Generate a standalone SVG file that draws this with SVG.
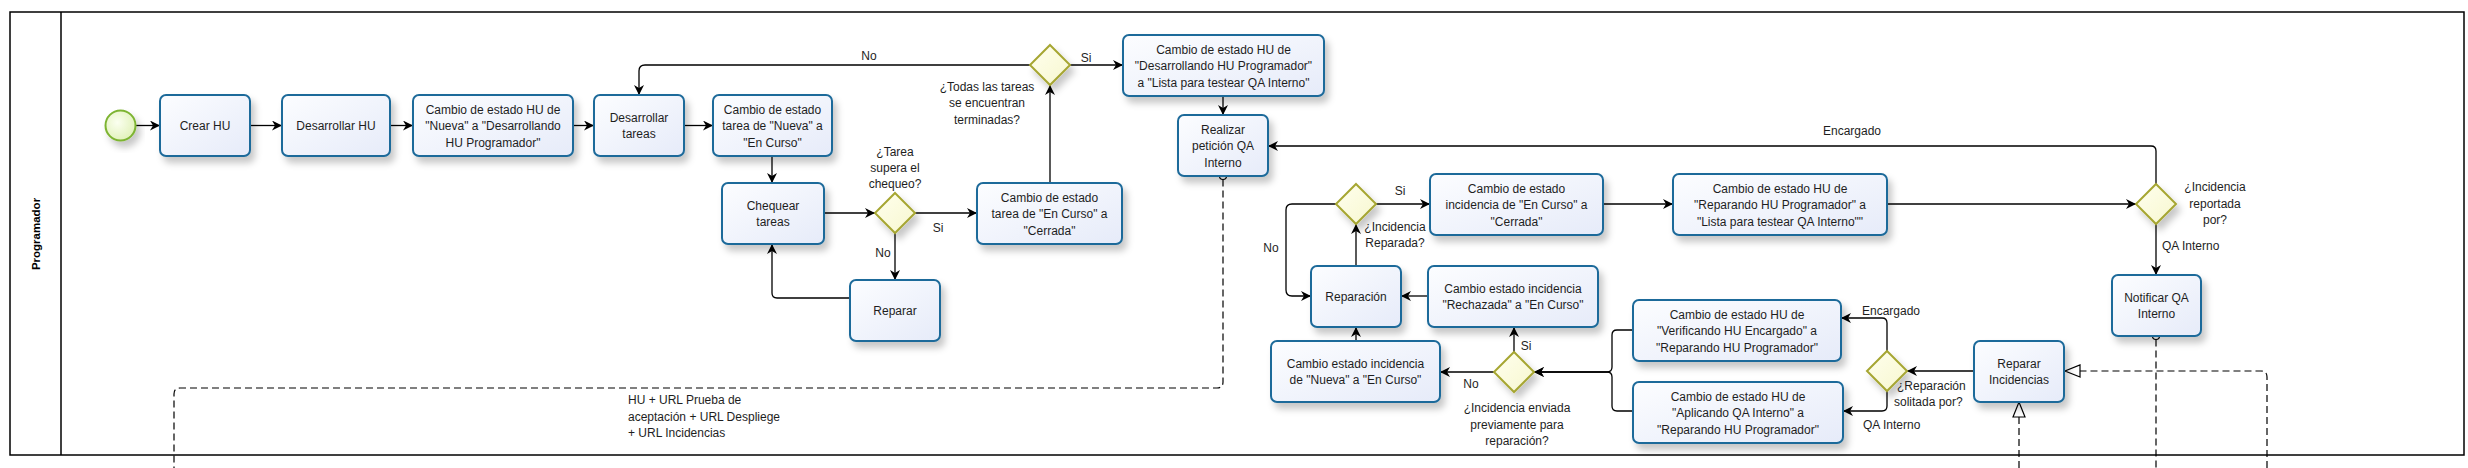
<svg xmlns="http://www.w3.org/2000/svg" width="2468" height="468" viewBox="0 0 2468 468">
<defs>
<linearGradient id="gBox" x1="0" y1="0" x2="1" y2="1"><stop offset="0" stop-color="#fcfdff"/><stop offset="1" stop-color="#e6ebf9"/></linearGradient>
<linearGradient id="gDia" x1="0" y1="0" x2="1" y2="1"><stop offset="0" stop-color="#ffffee"/><stop offset="1" stop-color="#f7f7cf"/></linearGradient>
<radialGradient id="gStart" cx="0.4" cy="0.4" r="0.7"><stop offset="0" stop-color="#fbfff0"/><stop offset="1" stop-color="#def0b4"/></radialGradient>
<filter id="sh" x="-20%" y="-20%" width="150%" height="160%"><feDropShadow dx="4" dy="6" stdDeviation="3.5" flood-color="#000" flood-opacity="0.22"/></filter>
<marker id="arr" markerUnits="userSpaceOnUse" markerWidth="11" markerHeight="11" refX="10" refY="5" orient="auto"><path d="M0,0 L10,5 L0,10 L3,5 z" fill="#000"/></marker>
<marker id="open" markerUnits="userSpaceOnUse" markerWidth="18" markerHeight="16" refX="16" refY="7" orient="auto"><path d="M1,1 L16,7 L1,13 z" fill="#fff" stroke="#000" stroke-width="1.2"/></marker>
<style>
.box{fill:url(#gBox);stroke:#1f6a9a;stroke-width:2;filter:url(#sh)}
.dia{fill:url(#gDia);stroke:#a6a632;stroke-width:2;filter:url(#sh)}
.t{font-family:"Liberation Sans",Arial,sans-serif;font-size:12px;fill:#1e1e1e;text-anchor:middle}
.l{font-family:"Liberation Sans",Arial,sans-serif;font-size:12px;fill:#1e1e1e}
.c{fill:none;stroke:#000;stroke-width:1.3;marker-end:url(#arr)}
.m{fill:none;stroke:#000;stroke-width:1.2;stroke-dasharray:7 4}
</style>
</defs>
<rect width="2468" height="468" fill="#fff"/>
<g id="pool">
<rect x="10" y="12" width="2454" height="443" fill="none" stroke="#000" stroke-width="1.5"/>
<line x1="61" y1="12" x2="61" y2="455" stroke="#000" stroke-width="1.5"/>
<text transform="translate(40,234) rotate(-90)" font-family="'Liberation Sans',Arial,sans-serif" font-size="11.5" font-weight="bold" text-anchor="middle" fill="#000">Programador</text>
</g>
<g id="connectors">
<path class="c" d="M135.5,125.5 H160"/>
<path class="c" d="M250,125.5 H282"/>
<path class="c" d="M390,125.5 H413"/>
<path class="c" d="M573,125.5 H594"/>
<path class="c" d="M684,125.5 H713"/>
<path class="c" d="M772,156 V183"/>
<path class="c" d="M824,213 H875"/>
<path class="c" d="M915,213 H977"/>
<path class="c" d="M895,233 V280"/>
<path class="c" d="M850,298 H777 Q772,298 772,293 V244"/>
<path class="c" d="M1050,183 V85"/>
<path class="c" d="M1030,65 H645 Q639,65 639,71 V95"/>
<path class="c" d="M1070,65 H1123"/>
<path class="c" d="M1223,96 V115"/>
<path class="c" d="M1376,204 H1430"/>
<path class="c" d="M1336,204 H1292 Q1286,204 1286,210 V290 Q1286,296 1292,296 H1311"/>
<path class="c" d="M1356,266 V224"/>
<path class="c" d="M1603,204 H1673"/>
<path class="c" d="M1887,204 H2136"/>
<path class="c" d="M2156,184 V151 Q2156,146 2151,146 H1268"/>
<path class="c" d="M2156,224 V275"/>
<path class="c" d="M1428,296 H1401"/>
<path class="c" d="M1356,341 V327"/>
<path class="c" d="M1494,372 H1440"/>
<path class="c" d="M1514,352 V327"/>
<path class="c" d="M1633,330 H1617 Q1612,330 1612,335 V367 Q1612,372 1607,372 H1534"/>
<path class="c" d="M1633,411 H1617 Q1612,411 1612,406 V377 Q1612,372 1607,372 H1534"/>
<path class="c" d="M1974,371 H1907"/>
<path class="c" d="M1887,351 V323 Q1887,318 1882,318 H1841"/>
<path class="c" d="M1887,391 V406 Q1887,411 1882,411 H1843"/>
<path class="m" d="M1223,179.5 V382 Q1223,388 1217,388 H180 Q174,388 174,394 V468"/>
<path class="m" d="M2156,339.5 V468"/>
<path class="m" d="M2267,468 V377 Q2267,371 2261,371 H2065" marker-end="url(#open)"/>
<path class="m" d="M2019,468 V402" marker-end="url(#open)"/>
<circle cx="1223" cy="176" r="3.5" fill="#fff" stroke="#000" stroke-width="1.2"/>
<circle cx="2156" cy="336" r="3.5" fill="#fff" stroke="#000" stroke-width="1.2"/>
</g>
<g id="start"><circle cx="120.5" cy="125.5" r="15" fill="url(#gStart)" stroke="#7db431" stroke-width="2" filter="url(#sh)"/></g>
<g id="crear"><rect class="box" x="160" y="95" width="90" height="61" rx="6"/><text class="t" x="205" y="130">Crear HU</text></g>
<g id="desHU"><rect class="box" x="282" y="95" width="108" height="61" rx="6"/><text class="t" x="336" y="130">Desarrollar HU</text></g>
<g id="cambioNueva"><rect class="box" x="413" y="95" width="160" height="61" rx="6"/><text class="t" x="493" y="113.5">Cambio de estado HU de</text><text class="t" x="493" y="130">"Nueva" a "Desarrollando</text><text class="t" x="493" y="146.5">HU Programador"</text></g>
<g id="desTareas"><rect class="box" x="594" y="95" width="90" height="61" rx="6"/><text class="t" x="639" y="121.5">Desarrollar</text><text class="t" x="639" y="138">tareas</text></g>
<g id="tareaNueva"><rect class="box" x="713" y="95" width="119" height="61" rx="6"/><text class="t" x="772.5" y="113.5">Cambio de estado</text><text class="t" x="772.5" y="130">tarea de "Nueva" a</text><text class="t" x="772.5" y="146.5">"En Curso"</text></g>
<g id="chequear"><rect class="box" x="722" y="183" width="102" height="61" rx="6"/><text class="t" x="773" y="209.5">Chequear</text><text class="t" x="773" y="226">tareas</text></g>
<g id="reparar"><rect class="box" x="850" y="280" width="90" height="61" rx="6"/><text class="t" x="895" y="315">Reparar</text></g>
<g id="tareaCerrada"><rect class="box" x="977" y="183" width="145" height="61" rx="6"/><text class="t" x="1049.5" y="201.5">Cambio de estado</text><text class="t" x="1049.5" y="218">tarea de "En Curso" a</text><text class="t" x="1049.5" y="234.5">"Cerrada"</text></g>
<g id="huLista"><rect class="box" x="1123" y="35" width="201" height="61" rx="6"/><text class="t" x="1223.5" y="53.5">Cambio de estado HU de</text><text class="t" x="1223.5" y="70">"Desarrollando HU Programador"</text><text class="t" x="1223.5" y="86.5">a "Lista para testear QA Interno"</text></g>
<g id="realizar"><rect class="box" x="1178" y="115" width="90" height="61" rx="6"/><text class="t" x="1223" y="133.5">Realizar</text><text class="t" x="1223" y="150">petición QA</text><text class="t" x="1223" y="166.5">Interno</text></g>
<g id="incCerrada"><rect class="box" x="1430" y="174" width="173" height="61" rx="6"/><text class="t" x="1516.5" y="192.5">Cambio de estado</text><text class="t" x="1516.5" y="209">incidencia de "En Curso" a</text><text class="t" x="1516.5" y="225.5">"Cerrada"</text></g>
<g id="huReparando"><rect class="box" x="1673" y="174" width="214" height="61" rx="6"/><text class="t" x="1780" y="192.5">Cambio de estado HU de</text><text class="t" x="1780" y="209">"Reparando HU Programador" a</text><text class="t" x="1780" y="225.5">"Lista para testear QA Interno""</text></g>
<g id="reparacion"><rect class="box" x="1311" y="266" width="90" height="61" rx="6"/><text class="t" x="1356" y="301">Reparación</text></g>
<g id="rechazada"><rect class="box" x="1428" y="266" width="170" height="61" rx="6"/><text class="t" x="1513" y="292.5">Cambio estado incidencia</text><text class="t" x="1513" y="309">"Rechazada" a "En Curso"</text></g>
<g id="incNueva"><rect class="box" x="1271" y="341" width="169" height="61" rx="6"/><text class="t" x="1355.5" y="367.5">Cambio estado incidencia</text><text class="t" x="1355.5" y="384">de "Nueva" a "En Curso"</text></g>
<g id="verificando"><rect class="box" x="1633" y="300" width="208" height="61" rx="6"/><text class="t" x="1737" y="318.5">Cambio de estado HU de</text><text class="t" x="1737" y="335">"Verificando HU Encargado" a</text><text class="t" x="1737" y="351.5">"Reparando HU Programador"</text></g>
<g id="aplicando"><rect class="box" x="1633" y="382" width="210" height="61" rx="6"/><text class="t" x="1738" y="400.5">Cambio de estado HU de</text><text class="t" x="1738" y="417">"Aplicando QA Interno" a</text><text class="t" x="1738" y="433.5">"Reparando HU Programador"</text></g>
<g id="repararInc"><rect class="box" x="1974" y="341" width="90" height="61" rx="6"/><text class="t" x="2019" y="367.5">Reparar</text><text class="t" x="2019" y="384">Incidencias</text></g>
<g id="notificar"><rect class="box" x="2112" y="275" width="89" height="61" rx="6"/><text class="t" x="2156.5" y="301.5">Notificar QA</text><text class="t" x="2156.5" y="318">Interno</text></g>
<g id="gw1"><path class="dia" d="M895,193 L915,213 L895,233 L875,213 z"/><text class="t" x="895" y="156">¿Tarea</text><text class="t" x="895" y="171.5">supera el</text><text class="t" x="895" y="187.5">chequeo?</text></g>
<g id="gw2"><path class="dia" d="M1050,45 L1070,65 L1050,85 L1030,65 z"/><text class="t" x="987" y="91">¿Todas las tareas</text><text class="t" x="987" y="107">se encuentran</text><text class="t" x="987" y="123.5">terminadas?</text></g>
<g id="gw3"><path class="dia" d="M1356,184 L1376,204 L1356,224 L1336,204 z"/><text class="t" x="1395" y="231">¿Incidencia</text><text class="t" x="1395" y="247">Reparada?</text></g>
<g id="gw4"><path class="dia" d="M1514,352 L1534,372 L1514,392 L1494,372 z"/><text class="t" x="1517" y="412">¿Incidencia enviada</text><text class="t" x="1517" y="428.5">previamente para</text><text class="t" x="1517" y="445">reparación?</text></g>
<g id="gw5"><path class="dia" d="M2156,184 L2176,204 L2156,224 L2136,204 z"/><text class="t" x="2215" y="191">¿Incidencia</text><text class="t" x="2215" y="207.5">reportada</text><text class="t" x="2215" y="224">por?</text></g>
<g id="gw6"><path class="dia" d="M1887,351 L1907,371 L1887,391 L1867,371 z"/><text class="l" x="1897" y="390">¿Reparación</text><text class="l" x="1894" y="406">solitada por?</text></g>
<g id="labels">
<text class="t" x="869" y="60">No</text>
<text class="t" x="1086" y="62">Si</text>
<text class="t" x="938" y="232">Si</text>
<text class="t" x="883" y="257">No</text>
<text class="t" x="1400" y="195">Si</text>
<text class="t" x="1271" y="252">No</text>
<text class="t" x="1526" y="350">Si</text>
<text class="t" x="1471" y="388">No</text>
<text class="t" x="1852" y="135">Encargado</text>
<text class="l" x="2162" y="250">QA Interno</text>
<text class="l" x="1862" y="315">Encargado</text>
<text class="l" x="1863" y="429">QA Interno</text>
<text class="l" x="628" y="404">HU + URL Prueba de</text>
<text class="l" x="628" y="421">aceptación + URL Despliege</text>
<text class="l" x="628" y="437">+ URL Incidencias</text>
</g>
</svg>
